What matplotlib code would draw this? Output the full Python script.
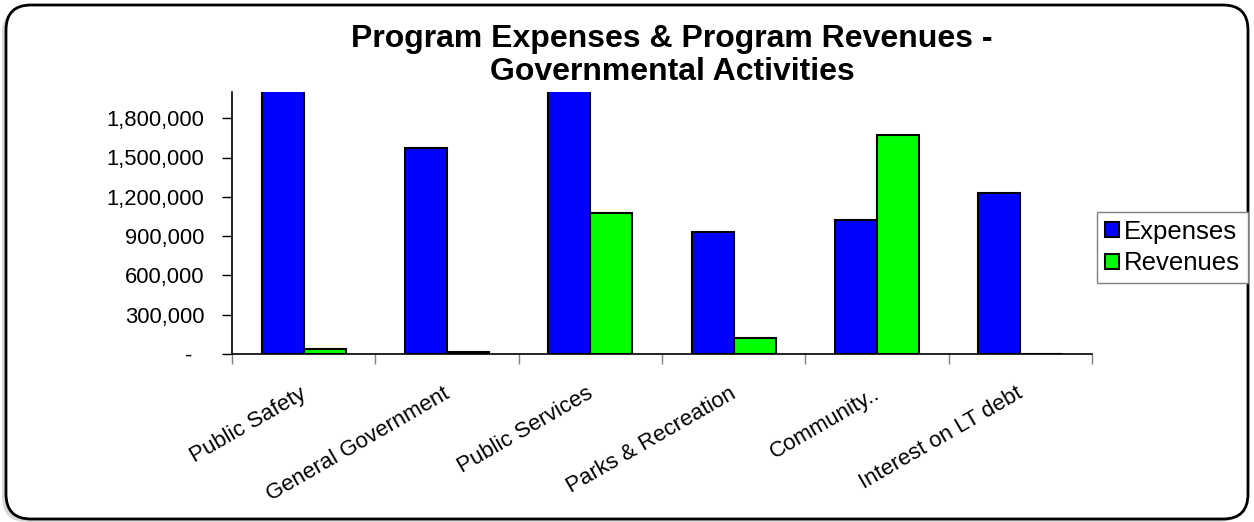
import numpy as np
import matplotlib
matplotlib.use('Agg')
import matplotlib.pyplot as plt
import matplotlib.transforms as mtransforms
from matplotlib.patches import FancyBboxPatch
from matplotlib.ticker import FuncFormatter, FixedLocator

plt.rcParams['font.family'] = ['Liberation Sans', 'DejaVu Sans']

# data (the two tallest bars run past the top)
categories = ['Public Safety', 'General Government', 'Public Services',
              'Parks & Recreation', 'Community..', 'Interest on LT debt']
expenses = [2900000, 1572000, 2450000, 934000, 1025000, 1230000]
revenues = [40000, 15000, 1078000, 121000, 1671000, 0]

W, H = 1254, 522
fig = plt.figure(figsize=(W / 100, H / 100), dpi=100)

# background frame with shadow
bg = fig.add_axes([0, 0, 1, 1], zorder=0)
bg.set_xlim(0, W)
bg.set_ylim(0, H)
bg.axis('off')
shadow = FancyBboxPatch((6 + 25 - 4, 3 + 25 - 3), W - 12 - 50, H - 8 - 50,
                        boxstyle='round,pad=25', fc='#c8c8c8', ec='none', alpha=0.7)
bg.add_patch(shadow)
frame = FancyBboxPatch((6 + 25, 3 + 25), W - 12 - 50, H - 8 - 50,
                       boxstyle='round,pad=25', fc='white', ec='black', lw=2)
bg.add_patch(frame)

ax = fig.add_axes([232 / W, 1 - 354 / H, (1092 - 232) / W, (354 - 92) / H], zorder=1)
ax.patch.set_alpha(0)

x = np.arange(len(categories))
bw = 0.293
ax.bar(x - bw / 2, expenses, bw, color='#0000ff', edgecolor='black', lw=1.5, label='Expenses')
ax.bar(x + bw / 2, revenues, bw, color='#00ff00', edgecolor='black', lw=1.5, label='Revenues')

ax.set_xlim(-0.5, len(categories) - 0.5)
ax.set_ylim(0, 2000000)
ax.set_yticks(np.arange(0, 1800001, 300000))
ax.yaxis.set_major_formatter(FuncFormatter(lambda v, p: '-  ' if v == 0 else f'{v:,.0f}'))
ax.tick_params(axis='y', length=7, width=1, pad=13, labelsize=15.8)

ax.set_xticks(x)
ax.set_xticklabels(categories)
ax.xaxis.set_minor_locator(FixedLocator(np.arange(-0.5, len(categories), 1.0)))
ax.tick_params(axis='x', which='major', length=0, pad=21, labelsize=16)
ax.tick_params(axis='x', which='minor', length=7, width=1, color='#808080')
shift = mtransforms.ScaledTranslation(-4 / 100, 0, fig.dpi_scale_trans)
for lab in ax.get_xticklabels():
    lab.set_rotation(30)
    lab.set_ha('right')
    lab.set_rotation_mode('anchor')
    lab.set_transform(lab.get_transform() + shift)

for s in ['top', 'right']:
    ax.spines[s].set_visible(False)
for s in ['left', 'bottom']:
    ax.spines[s].set_linewidth(1.2)

fig.text(672 / W, 1 - 24 / H, 'Program Expenses & Program Revenues -\nGovernmental Activities',
         ha='center', va='top', fontsize=23, fontweight='bold', linespacing=1.15, zorder=3)

fig.legend(loc='upper left', bbox_to_anchor=(1097 / W, 1 - 212 / H), fontsize=18.5,
           frameon=True, fancybox=False, edgecolor='#808080', framealpha=1,
           handlelength=0.55, handleheight=0.55, handletextpad=0.2, borderpad=0.3,
           labelspacing=0.3, borderaxespad=0)

fig.savefig('out.png', dpi=100)
